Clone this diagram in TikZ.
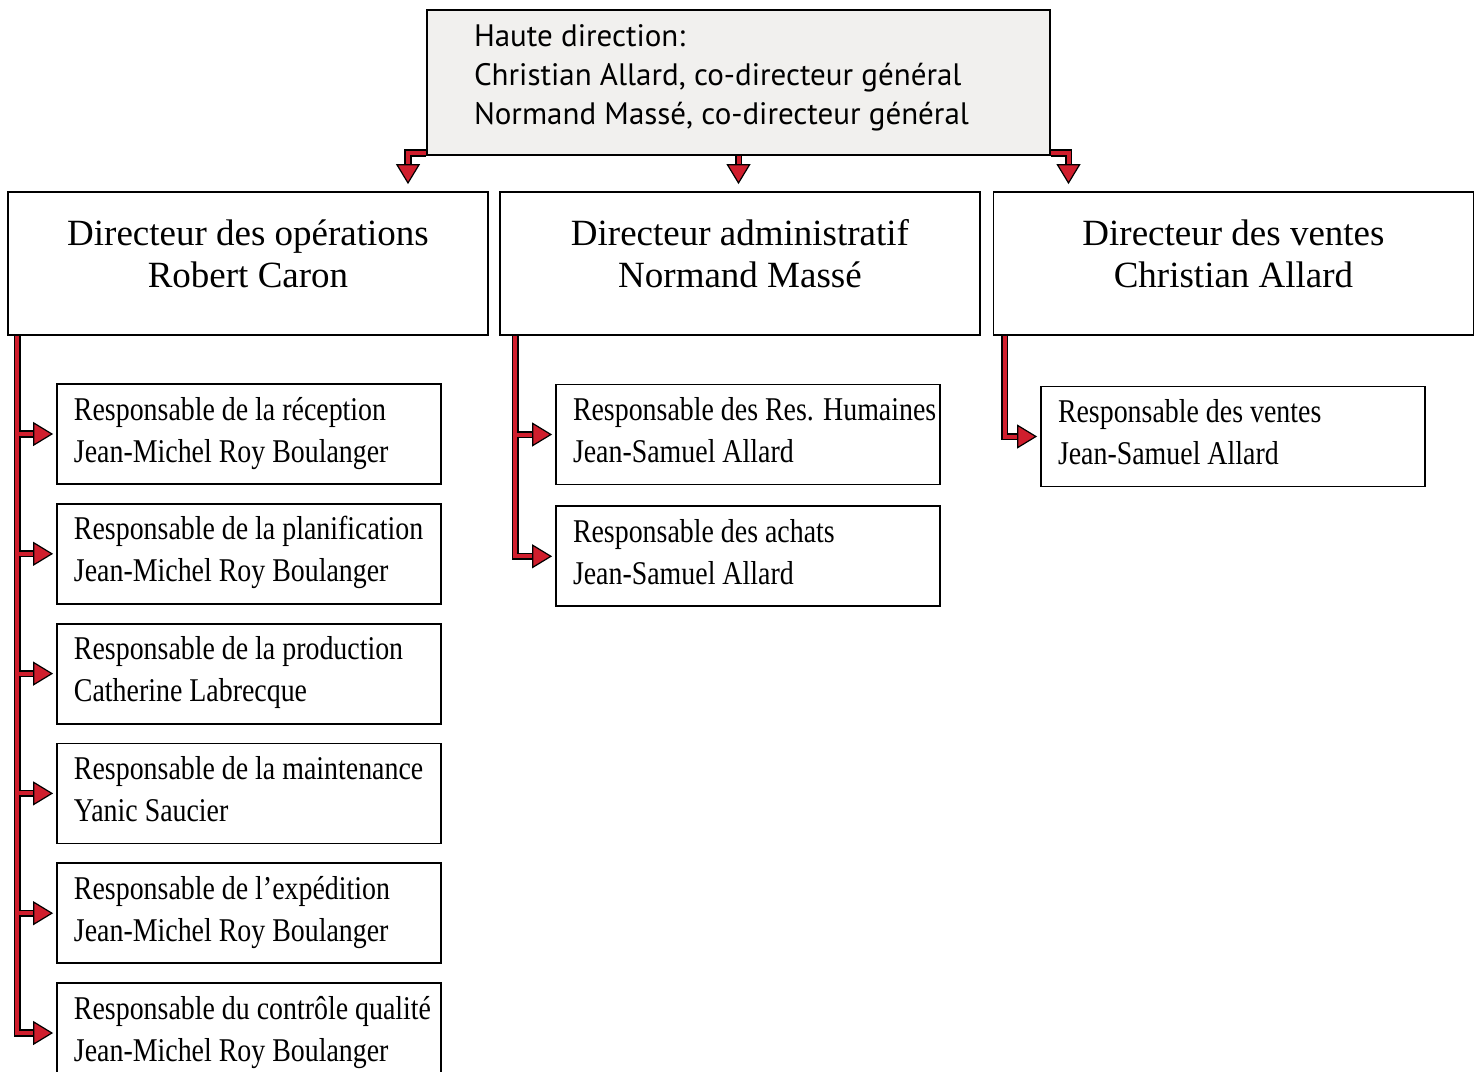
\documentclass[tikz,border=0pt]{standalone}
\usepackage{fontspec}
\setmainfont{Liberation Serif}
\newfontfamily\respfont[FakeStretch=0.84]{Liberation Serif}
\newfontfamily\headfont{PT Sans}
\usetikzlibrary{arrows.meta,positioning}
\definecolor{linkred}{RGB}{208,30,45}
\definecolor{headgray}{RGB}{241,240,238}

\begin{document}
\begin{tikzpicture}[x=0.5pt,y=-0.5pt,node distance=9pt,
  frame/.style={draw=black,line width=0.9pt,inner xsep=0pt},
  headbox/.style={frame,fill=headgray,text width=311.5pt,align=flush left,
    font=\headfont\fontsize{15.5}{19.5}\selectfont,
    inner ysep=8pt,text height=10pt,text depth=46.5pt,
    execute at begin node={\leftskip=23.5pt\relax}},
  dirbox/.style={frame,text width=240pt,align=flush center,
    font=\fontsize{18.5}{21}\selectfont,
    inner ysep=14pt,text height=12.5pt,text depth=31pt},
  respbox/.style={frame,text width=192pt,align=flush left,
    font=\respfont\fontsize{16.6}{21}\selectfont,
    inner ysep=6pt,text height=12pt,text depth=26pt,
    execute at begin node={\leftskip=8.5pt\relax}},
  redlink/.style={draw=linkred,line width=2pt,shorten >=1.5pt,
    -{Triangle[length=10pt,width=12pt,fill=linkred,color=black,line width=0.6pt]},
    preaction={draw=black,line width=3.6pt,-,shorten >=8pt}}]
  \useasboundingbox (0,0) rectangle (1480,1072);

  % top and directors
  \node[headbox] (head) at (738.5,82.5)
    {Haute direction:\\Christian Allard, co-directeur général\\Normand Massé, co-directeur général};
  \node[dirbox] (dops) at (248,263.5)   {Directeur des opérations\\Robert Caron};
  \node[dirbox] (dadm) at (740,263.5)   {Directeur administratif\\Normand Massé};
  \node[dirbox] (dven) at (1233.5,263.5) {Directeur des ventes\\Christian Allard};

  % operations
  \node[respbox] (reception) at (249,434) {Responsable de la réception\\Jean-Michel Roy Boulanger};
  \node[respbox] (planif)  [below=of reception] {Responsable de la planification\\Jean-Michel Roy Boulanger};
  \node[respbox] (prod)    [below=of planif]    {Responsable de la production\\Catherine Labrecque};
  \node[respbox] (maint)   [below=of prod]      {Responsable de la maintenance\\Yanic Saucier};
  \node[respbox] (exped)   [below=of maint]     {Responsable de l’expédition\\Jean-Michel Roy Boulanger};
  \node[respbox] (qualite) [below=of exped]     {Responsable du contrôle qualité\\Jean-Michel Roy Boulanger};

  % administration and sales
  \node[respbox] (rh) at (748,434.5) {Responsable des Res. Humaines\\Jean-Samuel Allard};
  \node[respbox] (achats) [below=10pt of rh] {Responsable des achats\\Jean-Samuel Allard};
  \node[respbox] (ventes) at (1233,436.5) {Responsable des ventes\\Jean-Samuel Allard};

  % links from the top
  \coordinate (t1) at ([xshift=80pt]dops.north);
  \coordinate (t3) at ([xshift=-82.5pt]dven.north);
  \draw[redlink,shorten >=3.5pt] ([yshift=1.5pt]head.south west) -| (t1);
  \draw[redlink,shorten >=3.5pt] (head.south) -- (head.south |- dadm.north);
  \draw[redlink,shorten >=3.5pt] ([yshift=1.5pt]head.south east) -| (t3);

  % spines
  \coordinate (s1) at ([xshift=5pt]dops.south west);
  \coordinate (s2) at ([xshift=8pt]dadm.south west);
  \coordinate (s3) at ([xshift=6pt]dven.south west);
  \draw[redlink] (s1) |- (qualite.west);
  \foreach \n in {reception,planif,prod,maint,exped}
    \draw[redlink] ([xshift=1pt]s1 |- \n.west) -- (\n.west);
  \draw[redlink] (s2) |- (achats.west);
  \draw[redlink] ([xshift=1pt]s2 |- rh.west) -- (rh.west);
  \draw[redlink] (s3) |- (ventes.west);
\end{tikzpicture}
\end{document}
